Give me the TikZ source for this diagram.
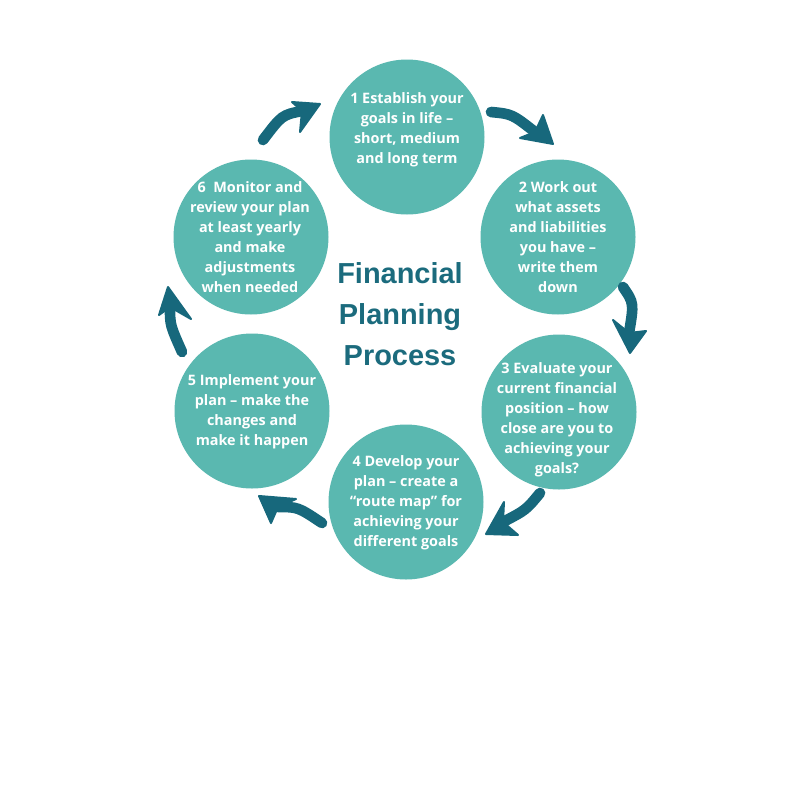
\documentclass[tikz,border=0pt]{standalone}
\usepackage{fontspec}
\setmainfont{Open Sans}
\newfontfamily\titlefont{Liberation Sans}
\definecolor{circfill}{HTML}{5AB8B0}
\definecolor{arrowcol}{HTML}{17687C}
\definecolor{titlecol}{HTML}{1B6B7D}
\begin{document}
\begin{tikzpicture}[x=0.75pt,y=-0.75pt,
  stepcirc/.style={circle,fill=circfill,minimum size=155*0.75pt,inner sep=0pt},
  steptext/.style={text=white,font=\bfseries\fontsize{10.8}{15}\selectfont,align=center},
  arrbody/.style={draw=arrowcol,line width=8pt,line cap=round},
  arrhead/.style={fill=arrowcol,draw=arrowcol,line width=1.5pt,line join=round}]
\useasboundingbox (0,0) rectangle (800,800);
\fill[white] (0,0) rectangle (800,800);
% circles
\node[stepcirc] (c1) at (407,137) {};
\node[stepcirc] (c2) at (558,237) {};
\node[stepcirc] (c3) at (559,412) {};
\node[stepcirc] (c4) at (406,502) {};
\node[stepcirc] (c5) at (252,411) {};
\node[stepcirc] (c6) at (251,237) {};
% texts
\node[steptext] (t1) at (407,130) {1 Establish your\\goals in life –\\short, medium\\and long term};
\node[steptext] (t2) at (558,237) {2 Work out\\what assets\\and liabilities\\you have –\\write them\\down};
\node[steptext] (t3) at (557,420) {3 Evaluate your\\current financial\\position – how\\close are you to\\achieving your\\goals?};
\node[steptext] (t4) at (406,503) {4 Develop your\\plan – create a\\“route map” for\\achieving your\\different goals};
\node[steptext] (t5) at (252,412) {5 Implement your\\plan – make the\\changes and\\make it happen};
\node[steptext] (t6) at (250,237) {6\ \ Monitor and\\review your plan\\at least yearly\\and make\\adjustments\\when needed};
% title
\node[text=titlecol,font=\titlefont\bfseries\fontsize{21.7}{30.5}\selectfont,align=center] (title) at (400,314) {Financial\\Planning\\Process};
% arrows
% 1 -> 2
\coordinate (a1t) at (491,112); \coordinate (a1n) at (535,132); \coordinate (a1p) at (553,144);
\coordinate (a1b) at (543,115); \coordinate (a1c) at (520,138);
\draw[arrbody] (a1t) .. controls (512,114) .. (a1n);
\filldraw[arrhead] (a1p) -- (a1b) -- (a1n) -- (a1c) -- cycle;
% 2 -> 3
\coordinate (a2t) at (623,287); \coordinate (a2n) at (629,333); \coordinate (a2p) at (630,353);
\coordinate (a2b) at (613,320); \coordinate (a2c) at (646,331);
\draw[arrbody] (a2t) .. controls (634,303) .. (a2n);
\filldraw[arrhead] (a2p) -- (a2b) -- (a2n) -- (a2c) -- cycle;
% 3 -> 4
\coordinate (a3t) at (540,493); \coordinate (a3n) at (503,522); \coordinate (a3p) at (486,534);
\coordinate (a3b) at (504,502); \coordinate (a3c) at (518,535);
\draw[arrbody] (a3t) .. controls (526,510) .. (a3n);
\filldraw[arrhead] (a3p) -- (a3b) -- (a3n) -- (a3c) -- cycle;
% 4 -> 5
\coordinate (a4t) at (322,523); \coordinate (a4n) at (278,507); \coordinate (a4p) at (259,496);
\coordinate (a4b) at (296,499); \coordinate (a4c) at (271,523);
\draw[arrbody] (a4t) .. controls (298,507) .. (a4n);
\filldraw[arrhead] (a4p) -- (a4b) -- (a4n) -- (a4c) -- cycle;
% 5 -> 6
\coordinate (a5t) at (182,352); \coordinate (a5n) at (170,307); \coordinate (a5p) at (168,287);
\coordinate (a5b) at (159,315); \coordinate (a5c) at (191,319);
\draw[arrbody] (a5t) .. controls (170,325) .. (a5n);
\filldraw[arrhead] (a5p) -- (a5b) -- (a5n) -- (a5c) -- cycle;
% 6 -> 1
\coordinate (a6t) at (263,140); \coordinate (a6n) at (302,111); \coordinate (a6p) at (320,104);
\coordinate (a6b) at (292,102); \coordinate (a6c) at (300,132);
\draw[arrbody] (a6t) .. controls (282,115) .. (a6n);
\filldraw[arrhead] (a6p) -- (a6b) -- (a6n) -- (a6c) -- cycle;
\end{tikzpicture}
\end{document}
